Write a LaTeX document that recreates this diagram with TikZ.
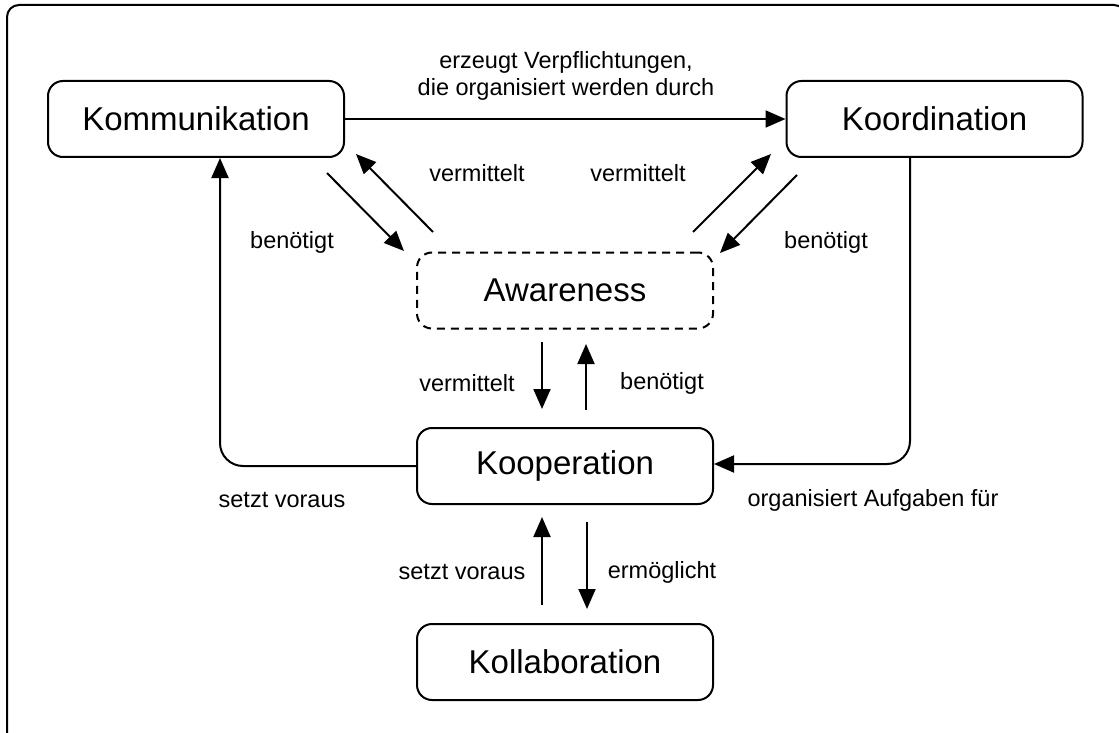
\documentclass[tikz,border=0pt]{standalone}
\usepackage{fontspec}
\setmainfont{Liberation Sans}
\usetikzlibrary{arrows.meta,calc}
\begin{document}
\begin{tikzpicture}[x=1pt,y=-1pt,
  concept/.style={draw,line width=2pt,rounded corners=15pt,minimum width=296pt,minimum height=76pt,
    font=\fontsize{33}{40}\selectfont,inner sep=0pt},
  aware/.style={concept,dash pattern=on 8pt off 6pt},
  rel/.style={font=\fontsize{23.5}{27}\selectfont,inner sep=0pt,align=center},
  arr/.style={line width=2pt,-{Triangle[length=20pt,width=17pt]}},
  link/.style={line width=2pt}]
\useasboundingbox (0,0) rectangle (1119,733);
% outer frame, running off the page at the right and bottom
\begin{scope}
  \clip (0,0) rectangle (1119,733);
  \draw[line width=2pt,rounded corners=12pt] (7,5) rectangle (1126,745);
\end{scope}

% concepts
\node[concept] (komm)  at (196,119) {Kommunikation};
\node[concept] (koord) at (934.5,119) {Koordination};
\node[aware]   (aw)    at (565,290.5) {Awareness};
\node[concept] (koop)  at (565,466) {Kooperation};
\node[concept] (koll)  at (565,662) {Kollaboration};

% free ends of the short arrows
\coordinate (a1s) at (327,173);
\coordinate (a1e) at (404,251);
\coordinate (a2s) at (433,232);
\coordinate (a2e) at (356,154);
\coordinate (a3s) at (693,232);
\coordinate (a3e) at (771,154);
\coordinate (a4s) at (797,175);
\coordinate (a4e) at (720,253);
\coordinate (v1s) at (542,342);
\coordinate (v1e) at (542,409);
\coordinate (v2s) at (586,410);
\coordinate (v2e) at (586,344);
\coordinate (v3s) at (542,605);
\coordinate (v3e) at (542,517);
\coordinate (v4s) at (587,522);
\coordinate (v4e) at (587,609);

% connectors
\draw[arr] (komm.east) -- (koord.west);
\draw[arr] (a1s) -- (a1e);
\draw[arr] (a2s) -- (a2e);
\draw[arr] (a3s) -- (a3e);
\draw[arr] (a4s) -- (a4e);
\draw[arr] (v1s) -- (v1e);
\draw[arr] (v2s) -- (v2e);
\draw[arr] (v3s) -- (v3e);
\draw[arr] (v4s) -- (v4e);
\draw[arr,rounded corners=23pt] (koop.west) -| ($(komm.south)+(24,0)$);
\draw[arr,rounded corners=23pt] ($(koord.south)+(-24.5,0)$) |- ($(koop.east)+(0,-2)$);

% relation labels
\node[rel] (l1) at (566,76) {erzeugt Verpflichtungen,\\die organisiert werden durch};
\node[rel] (l2) at (477,173) {vermittelt};
\node[rel] (l3) at (638,173) {vermittelt};
\node[rel] (l4) at (292,242) {benötigt};
\node[rel] (l5) at (826,242) {benötigt};
\node[rel] (l6) at (467,383) {vermittelt};
\node[rel] (l7) at (662,383) {benötigt};
\node[rel] (l8) at (282,500) {setzt voraus};
\node[rel] (l9) at (873,500) {organisiert Aufgaben für};
\node[rel] (l10) at (462,572) {setzt voraus};
\node[rel] (l11) at (662,572) {ermöglicht};
\end{tikzpicture}
\end{document}
